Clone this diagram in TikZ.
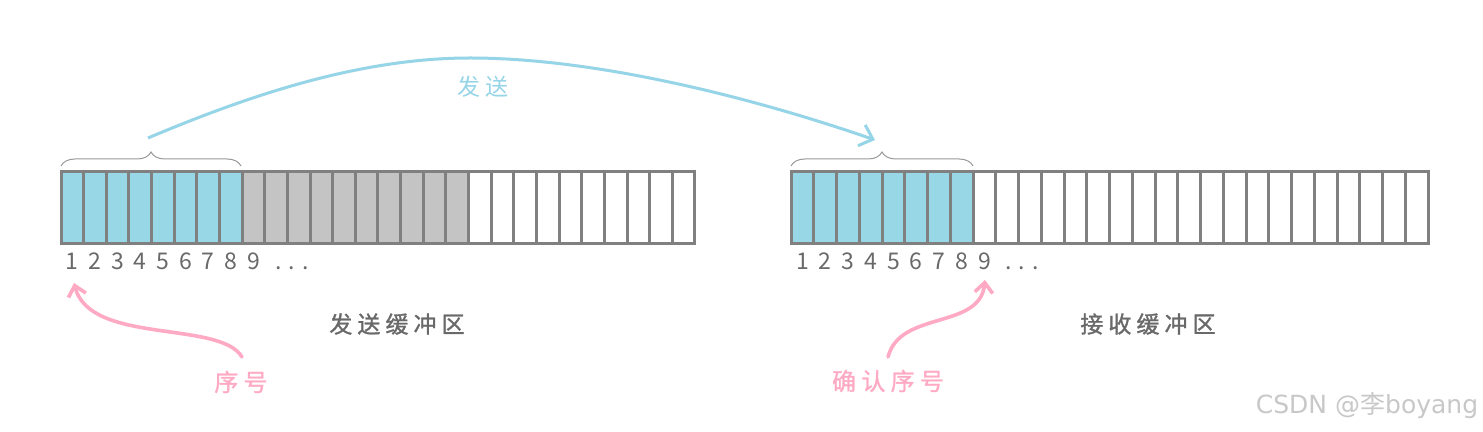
\documentclass[tikz,border=0pt]{standalone}
\usepackage{fontspec}
\newfontfamily\cjk{Noto Sans CJK SC}
\newfontfamily\cjkls[LetterSpace=22]{Noto Sans CJK SC}
\newfontfamily\cjkbold[LetterSpace=22,FakeBold=1.2]{Noto Sans CJK SC}
\newfontfamily\wmfont{DejaVu Sans}
\usetikzlibrary{arrows.meta,decorations.pathreplacing}
\definecolor{cellblue}{RGB}{152,215,230}
\definecolor{cellgray}{RGB}{196,196,196}
\definecolor{border}{RGB}{128,128,128}
\definecolor{arrowblue}{RGB}{150,212,232}
\definecolor{pinkc}{RGB}{255,170,196}
\definecolor{textgray}{RGB}{105,105,105}
\definecolor{marks}{RGB}{200,200,200}
\tikzset{
  cellL/.style={draw=border, line width=1.5pt, minimum width=11.32pt, minimum height=36pt, inner sep=0pt, outer sep=0pt},
  cellR/.style={cellL, minimum width=11.375pt},
  num/.style={font=\cjk\fontsize{11.5}{13}\selectfont, text=textgray, inner sep=0pt, anchor=base},
  brc/.style={decorate, decoration={brace, amplitude=7pt}, draw=border!80, line width=0.5pt},
  sendarrow/.style={draw=arrowblue, line width=1.5pt, -{Straight Barb[length=6pt,width=11pt,line width=1.5pt]}},
  pinkarrow/.style={draw=pinkc, line width=1.8pt, line cap=round, -{Straight Barb[length=5pt,width=9pt,line width=1.8pt]}},
  buflabel/.style={font=\cjkbold\fontsize{11.5}{14}\selectfont, text=textgray, inner sep=0pt},
  pinklabel/.style={font=\cjkbold\fontsize{12}{14}\selectfont, text=pinkc, inner sep=0pt},
  bluelabel/.style={font=\cjkls\fontsize{11.5}{14}\selectfont, text=arrowblue, inner sep=0pt},
  wm/.style={font=\wmfont\fontsize{12.5}{14}\selectfont, text=marks, inner sep=0pt}
}
\begin{document}
\begin{tikzpicture}[x=0.5pt,y=-0.5pt]
\fill[white] (0,0) rectangle (1483,432);
\useasboundingbox (0,0) rectangle (1483,432);

% sending buffer
\foreach \i in {1,...,8} \node[cellL, fill=cellblue] (L\i) at ({61+(\i-0.5)*22.64},208) {};
\foreach \i in {9,...,18} \node[cellL, fill=cellgray] (L\i) at ({61+(\i-0.5)*22.64},208) {};
\foreach \i in {19,...,28} \node[cellL, fill=white] (L\i) at ({61+(\i-0.5)*22.64},208) {};
\foreach \i in {1,...,9} \node[num] (Ln\i) at ({61+(\i-0.5)*22.64},270) {\i};
\node[num] (Ldots) at (292,270) {. . .};

% receiving buffer
\foreach \i in {1,...,8} \node[cellR, fill=cellblue] (R\i) at ({791+(\i-0.5)*22.75},208) {};
\foreach \i in {9,...,28} \node[cellR, fill=white] (R\i) at ({791+(\i-0.5)*22.75},208) {};
\foreach \i in {1,...,9} \node[num] (Rn\i) at ({791+(\i-0.5)*22.75},270) {\i};
\node[num] (Rdots) at (1022,270) {. . .};

% braces
\draw[brc] (61,166) -- (241,166);
\draw[brc] (791,166) -- (973,166);

% send arrow
\coordinate (sA) at (148,138);
\coordinate (sB) at (875,140);
\draw[sendarrow] (sA) .. controls (250,95) and (360,58) .. (470,58)
                      .. controls (600,58) and (760,100) .. (sB);
\node[bluelabel] (sendlbl) at (483,87) {发送};

% buffer labels
\node[buflabel] (sendbuf) at (397,324) {发送缓冲区};
\node[buflabel] (recvbuf) at (1148,324) {接收缓冲区};

% pink arrows
\coordinate (p1s) at (242,357);
\coordinate (p1e) at (74,283);
\draw[pinkarrow] (p1s) .. controls (220,320) and (90,345) .. (p1e);
\node[pinklabel] (seqlbl) at (241,382) {序号};

\coordinate (p2s) at (888,357);
\coordinate (p2e) at (985,280);
\draw[pinkarrow] (p2s) .. controls (900,310) and (980,330) .. (p2e);
\node[pinklabel] (acklbl) at (888,381) {确认序号};

% watermark
\node[wm] (mark) at (1367,406) {CSDN @{\cjk 李}boyang};
\end{tikzpicture}
\end{document}
